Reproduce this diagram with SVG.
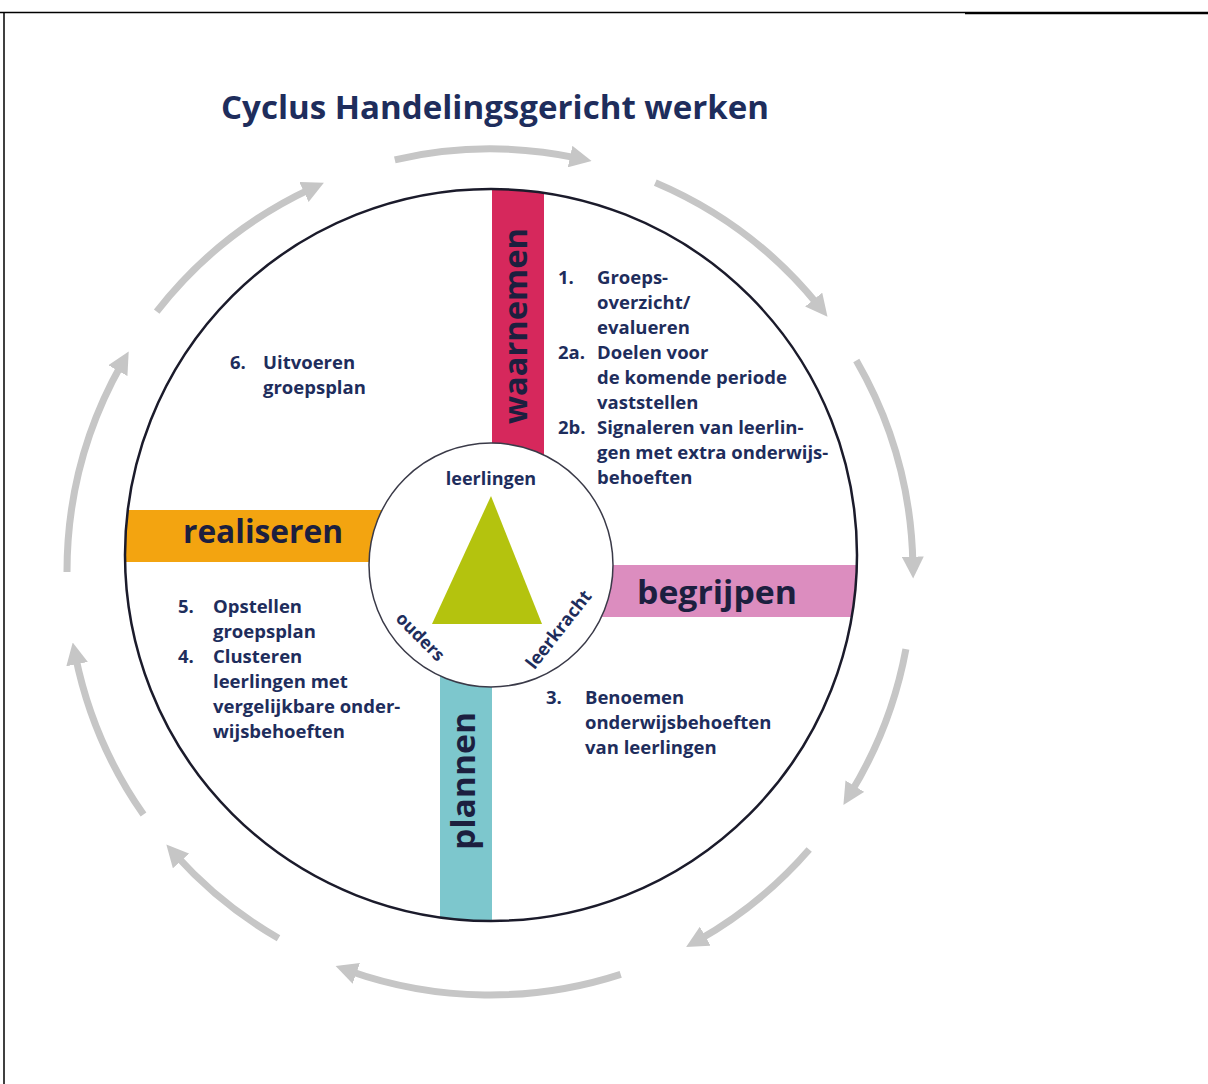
<svg xmlns="http://www.w3.org/2000/svg" width="1208" height="1084" viewBox="0 0 1208 1084">
<style>
.t{font-family:"Open Sans","Liberation Sans",sans-serif;font-weight:700;fill:#1e2d5c}
.s{font-size:18.5px}
.big{font-size:32px;fill:#1c1f3f}
.arc{fill:none;stroke:#c6c6c6;stroke-width:7}
</style>
<defs>
<marker id="ah" markerUnits="userSpaceOnUse" markerWidth="22" markerHeight="22" viewBox="0 0 22 22" refX="8" refY="11" orient="auto">
<path d="M0,0 L22,11 L0,22 z" fill="#c6c6c6"/>
</marker>
<clipPath id="cc"><circle cx="491" cy="555" r="366"/></clipPath>
</defs>
<rect x="0" y="0" width="1208" height="1084" fill="#ffffff"/>
<g id="frame" stroke="#000" fill="none">
<line x1="0" y1="12.5" x2="965" y2="12.5" stroke-width="1.5"/>
<line x1="965" y1="13" x2="1208" y2="13" stroke-width="2.5"/>
<line x1="4" y1="12" x2="4" y2="1084" stroke-width="1.5"/>
</g>
<text id="title" class="t" x="221" y="119" font-size="32" textLength="548" lengthAdjust="spacingAndGlyphs" fill="#1a2e5c">Cyclus Handelingsgericht werken</text>
<g id="connectors">
<path class="arc" marker-end="url(#ah)" d="M394.8,159.8 A423,423 0 0 1 577.9,158.2"/>
<path class="arc" marker-end="url(#ah)" d="M655.3,182.6 A423,423 0 0 1 818.7,305.8"/>
<path class="arc" marker-end="url(#ah)" d="M856.3,360.5 A423,423 0 0 1 912.9,564.6"/>
<path class="arc" marker-end="url(#ah)" d="M905.9,649.1 A423,423 0 0 1 850.7,793.0"/>
<path class="arc" marker-end="url(#ah)" d="M809.2,849.5 A423,423 0 0 1 698.3,940.2"/>
<path class="arc" marker-end="url(#ah)" d="M620.7,974.3 A423,423 0 0 1 348.8,970.7"/>
<path class="arc" marker-end="url(#ah)" d="M278.5,938.3 A423,423 0 0 1 175.7,855.0"/>
<path class="arc" marker-end="url(#ah)" d="M143.5,814.6 A423,423 0 0 1 75.5,656.3"/>
<path class="arc" marker-end="url(#ah)" d="M67,572 A423,423 0 0 1 121.8,363.7"/>
<path class="arc" marker-end="url(#ah)" d="M156.7,311.6 A423,423 0 0 1 311.2,188.6"/>
</g>
<g id="outer-circle">
<circle cx="491" cy="555" r="366" fill="#ffffff"/>
</g>
<g id="bars" clip-path="url(#cc)">
<rect id="bar-waarnemen" x="492" y="180" width="52" height="290" fill="#d6285c"/>
<rect id="bar-realiseren" x="110" y="510" width="290" height="52" fill="#f3a410"/>
<rect id="bar-begrijpen" x="585" y="565" width="290" height="52" fill="#dc8dbf"/>
<rect id="bar-plannen" x="440" y="660" width="52" height="280" fill="#7dc7cd"/>
</g>
<circle cx="491" cy="555" r="366" fill="none" stroke="#1b1b2b" stroke-width="2.5"/>
<g id="node-waarnemen">
<text class="t big" transform="translate(527,326) rotate(-90)" text-anchor="middle" textLength="196" lengthAdjust="spacingAndGlyphs">waarnemen</text>
</g>
<g id="node-realiseren">
<text class="t big" x="183" y="543" textLength="160" lengthAdjust="spacingAndGlyphs">realiseren</text>
</g>
<g id="node-begrijpen">
<text class="t big" x="637" y="604" textLength="160" lengthAdjust="spacingAndGlyphs">begrijpen</text>
</g>
<g id="node-plannen">
<text class="t big" transform="translate(475,781) rotate(-90)" text-anchor="middle" textLength="138" lengthAdjust="spacingAndGlyphs">plannen</text>
</g>
<g id="node-center">
<circle cx="491" cy="565" r="122" fill="#ffffff" stroke="#3a3a48" stroke-width="1.5"/>
<polygon points="491,496 432,624 542,624" fill="#b4c30e"/>
<text class="t" x="491" y="485" font-size="18" text-anchor="middle">leerlingen</text>
<text class="t" font-size="17.5" text-anchor="middle" transform="translate(421,636) rotate(45)" dominant-baseline="central">ouders</text>
<text class="t" font-size="18" text-anchor="middle" transform="translate(558,629) rotate(-52)" dominant-baseline="central">leerkracht</text>
</g>
<g id="node-step1-2" class="t s">
<text x="558" y="284">1.</text>
<text x="597" y="284">Groeps-</text>
<text x="597" y="309">overzicht/</text>
<text x="597" y="334">evalueren</text>
<text x="558" y="359">2a.</text>
<text x="597" y="359">Doelen voor</text>
<text x="597" y="384">de komende periode</text>
<text x="597" y="409">vaststellen</text>
<text x="558" y="434">2b.</text>
<text x="597" y="434">Signaleren van leerlin-</text>
<text x="597" y="459">gen met extra onderwijs-</text>
<text x="597" y="484">behoeften</text>
</g>
<g id="node-step3" class="t s">
<text x="546" y="704">3.</text>
<text x="585" y="704">Benoemen</text>
<text x="585" y="729">onderwijsbehoeften</text>
<text x="585" y="754">van leerlingen</text>
</g>
<g id="node-step4-5" class="t s">
<text x="178" y="613">5.</text>
<text x="213" y="613">Opstellen</text>
<text x="213" y="638">groepsplan</text>
<text x="178" y="663">4.</text>
<text x="213" y="663">Clusteren</text>
<text x="213" y="688">leerlingen met</text>
<text x="213" y="713">vergelijkbare onder-</text>
<text x="213" y="738">wijsbehoeften</text>
</g>
<g id="node-step6" class="t s">
<text x="230" y="369">6.</text>
<text x="263" y="369">Uitvoeren</text>
<text x="263" y="394">groepsplan</text>
</g>
</svg>
